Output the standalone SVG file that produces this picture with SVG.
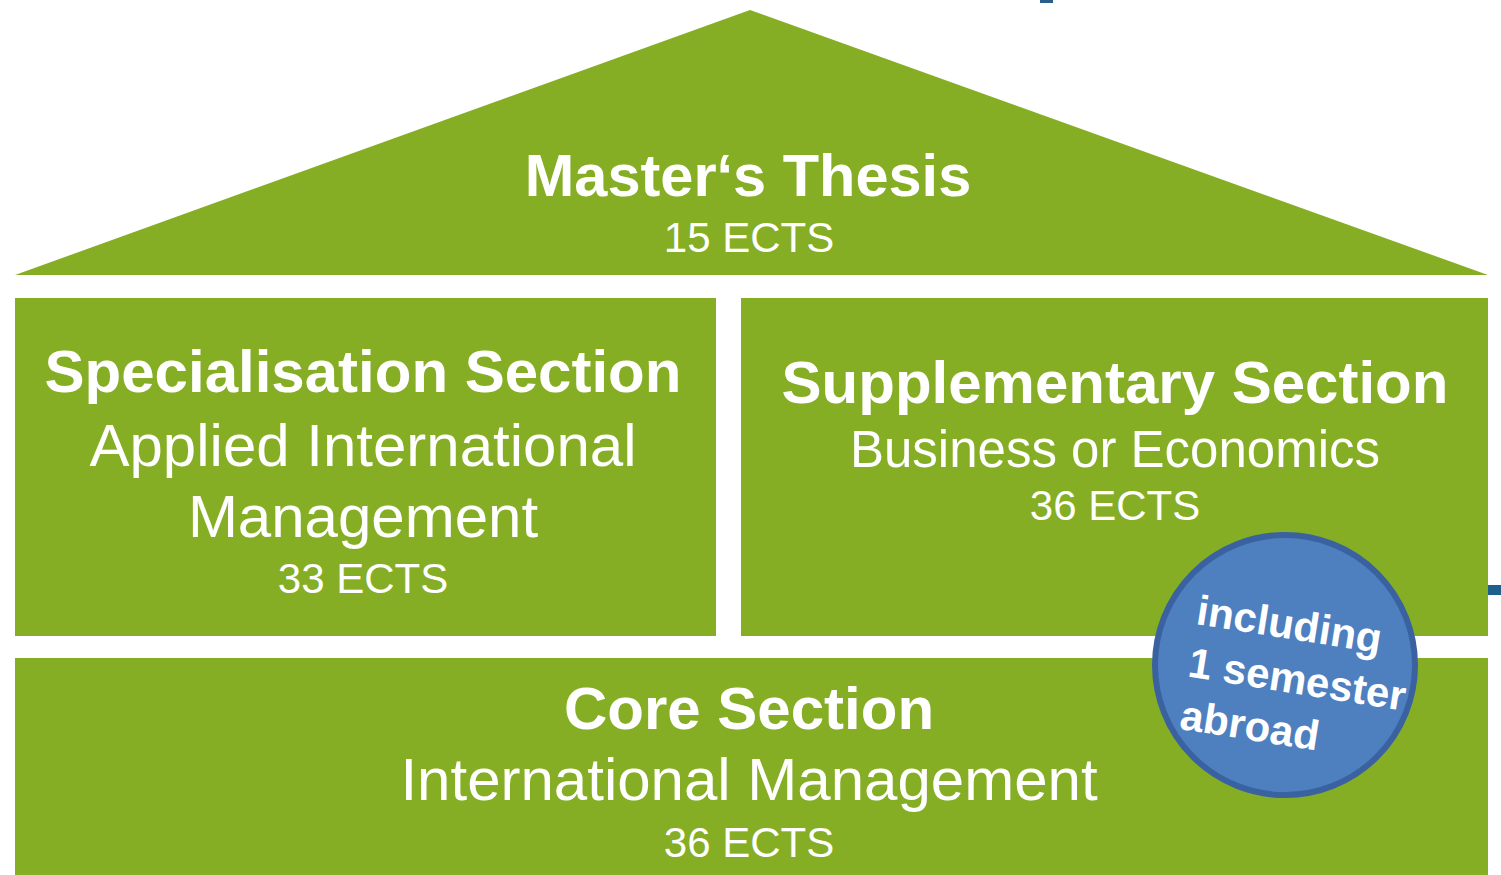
<svg xmlns="http://www.w3.org/2000/svg" width="1501" height="875" viewBox="0 0 1501 875">
<style>
.blk{fill:#86AE24}
.t{fill:#ffffff;font-family:"Liberation Sans",Arial,sans-serif;text-anchor:middle}
.b{font-weight:bold}
.big{font-size:60px}
.mid{font-size:60px}
.ects{font-size:42px}
.circ{fill:#4E80C0;stroke:#3A62A0;stroke-width:6}
.ct{fill:#ffffff;font-family:"Liberation Sans",Arial,sans-serif;font-weight:bold;font-size:42px}
</style>
<rect width="1501" height="875" fill="#ffffff"/>
<rect x="1040" y="0" width="13" height="3" fill="#2A5E8C"/>
<rect x="1488" y="585" width="13" height="10" fill="#1F5F8B"/>
<g id="thesis">
<polygon class="blk" points="15,275 750,10 1488,275"/>
<text class="t b" x="748" y="196" style="font-size:59.5px">Master‘s Thesis</text>
<text class="t ects" x="749" y="252">15 ECTS</text>
</g>
<g id="specialisation">
<rect class="blk" x="15" y="298" width="701" height="338"/>
<text class="t b big" x="363" y="392">Specialisation Section</text>
<text class="t mid" x="363" y="466">Applied International</text>
<text class="t mid" x="363" y="537">Management</text>
<text class="t ects" x="363" y="593">33 ECTS</text>
</g>
<g id="supplementary">
<rect class="blk" x="741" y="298" width="747" height="338"/>
<text class="t b big" x="1115" y="403">Supplementary Section</text>
<text class="t" x="1115" y="467" style="font-size:51px">Business or Economics</text>
<text class="t ects" x="1115" y="520">36 ECTS</text>
</g>
<g id="core">
<rect class="blk" x="15" y="658" width="1473" height="217"/>
<text class="t b big" x="749" y="729">Core Section</text>
<text class="t mid" x="749" y="800">International Management</text>
<text class="t ects" x="749" y="857">36 ECTS</text>
</g>
<g id="abroad">
<circle class="circ" cx="1285" cy="665" r="130"/>
<g transform="rotate(9 1195 624)">
<text class="ct" x="1195" y="624">including</text>
<text class="ct" x="1195" y="677">1 semester</text>
<text class="ct" x="1195" y="730">abroad</text>
</g>
</g>
<g id="connectors"></g>
</svg>
